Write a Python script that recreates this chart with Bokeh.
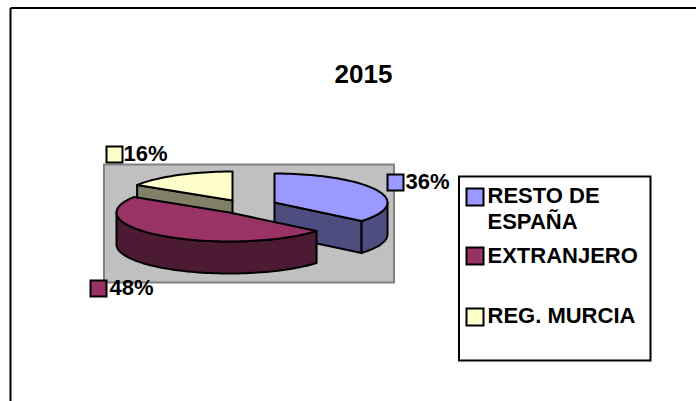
from math import sin, cos, pi
from bokeh.plotting import figure
from bokeh.models import Range1d
from bokeh.core.properties import value
from bokeh.embed import file_html
from bokeh.resources import INLINE

categories = ["RESTO DE ESPAÑA", "EXTRANJERO", "REG. MURCIA"]
shares = [36, 48, 16]
title = "2015"
top_colors = ["#9999FF", "#993366", "#FFFFCC"]
side_colors = ["#4D4D80", "#4D1A33", "#808066"]

W, H = 696, 401
FONT = value("Liberation Sans")
p = figure(width=W, height=H, output_backend="svg", toolbar_location=None,
           x_range=Range1d(0, W), y_range=Range1d(H, 0),
           min_border=0, outline_line_color=None, background_fill_color="white")
p.axis.visible = False
p.grid.visible = False

BLK = "#000000"
# chart frame (open to the right/bottom edge as in the reference)
p.line([10, 10], [401, 7.5], line_color=BLK, line_width=2)
p.line([10, 696], [7.5, 7.5], line_color=BLK, line_width=2)

# plot area
p.quad(left=[103.5], right=[393.5], top=[164], bottom=[282], fill_color="#C0C0C0",
       line_color="#808080", line_width=2, line_join="miter")

RX, RY, DEPTH = 113, 29, 32
apex = [(274, 202), (229, 212), (232, 200)]

cum = [0]
for s in shares:
    cum.append(cum[-1] + s)
ang = [c / 100 * 360 for c in cum]

def pt(c, a):
    r = a * pi / 180
    return c[0] + RX * sin(r), c[1] - RY * cos(r)

def arc(c, a0, a1):
    n = max(2, int(abs(a1 - a0) / 2))
    return [pt(c, a0 + (a1 - a0) * i / n) for i in range(n + 1)]

def poly(points, color):
    p.patch([q[0] for q in points], [q[1] for q in points], fill_color=color,
            line_color=BLK, line_width=2, line_join="round")

def down(points):
    return [(x, y + DEPTH) for x, y in points]

def wedge_top(i):
    return [apex[i]] + arc(apex[i], ang[i], ang[i + 1])

def wall(i, a0, a1):
    a = arc(apex[i], a0, a1)
    poly(a + down(a)[::-1], side_colors[i])

def cut(i, a):
    e = pt(apex[i], a)
    f = [apex[i], e]
    poly(f + down(f)[::-1], side_colors[i])

# yellow slice (back), then blue, then maroon in front
cut(2, ang[2])
poly(wedge_top(2), top_colors[2])
cut(0, ang[1])
wall(0, 90, ang[1])
poly(wedge_top(0), top_colors[0])
wall(1, ang[1], 270)
poly(wedge_top(1), top_colors[1])

def key(x, y, color, s=16):
    p.quad(left=[x], right=[x + s], top=[y], bottom=[y + s], fill_color=color,
           line_color=BLK, line_width=2, line_join="miter")

TEXT_SHIFT = -8.5

def txt(x, y, s, size="22px", align="left", baseline="alphabetic"):
    p.text([x], [y + TEXT_SHIFT], text=[s], text_font=FONT, text_font_style="bold", text_font_size=size,
           text_color=BLK, text_align=align, text_baseline=baseline)

# data labels
key(387, 174, top_colors[0]); txt(405, 189, f"{shares[0]}%")
key(90, 280, top_colors[1]); txt(109, 295, f"{shares[1]}%")
key(106, 146, top_colors[2]); txt(123, 161, f"{shares[2]}%")

txt(363, 82, title, size="26px", align="center")

# legend
p.quad(left=[458.5], right=[650], top=[176], bottom=[360], fill_color="white",
       line_color=BLK, line_width=2, line_join="miter")
key(466, 188, top_colors[0], 17); txt(487, 203, "RESTO DE"); txt(487, 229, "ESPAÑA")
key(466, 247, top_colors[1], 17); txt(487, 263, categories[1])
key(466, 308, top_colors[2], 17); txt(487, 323, categories[2])

open("out.html", "w").write(file_html(p, INLINE))
